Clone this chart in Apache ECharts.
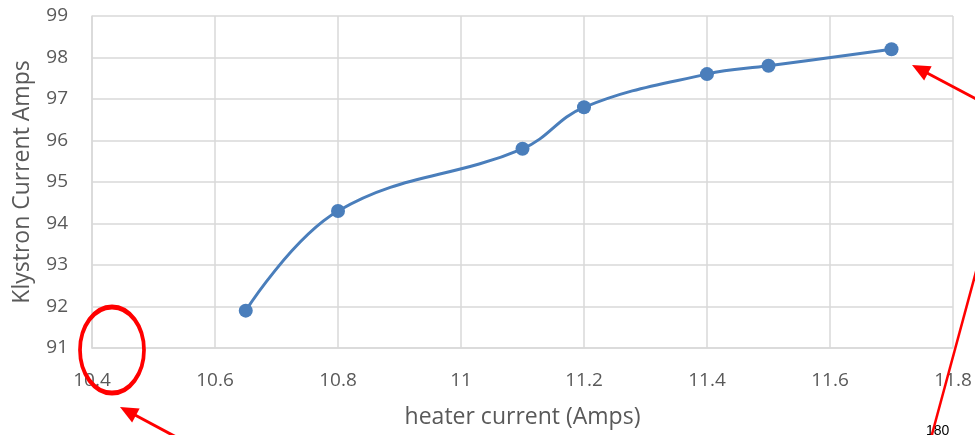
<!DOCTYPE html>
<html>
<head>
<meta charset="utf-8">
<script src="https://cdn.jsdelivr.net/npm/echarts@6/dist/echarts.min.js"></script>
<style>
	html, body { margin: 0; padding: 0; background: #fff; }
	#chart { width: 975px; height: 435px; }
</style>
</head>
<body>
<div id="chart"></div>
<script>
// heater current (Amps) vs klystron current
var heaterCurrent = [10.65, 10.8, 11.1, 11.2, 11.4, 11.5, 11.7];
var klystronCurrent = [91.9, 94.3, 95.8, 96.8, 97.6, 97.8, 98.2];

var myChart = echarts.init(document.getElementById('chart'));

var points = heaterCurrent.map(function(x, i) {
	return [x, klystronCurrent[i]];
});

// arrow head for the red annotations
function arrowHead(tip, from, len, half) {
	var dx = tip[0] - from[0],
		dy = tip[1] - from[1];
	var d = Math.sqrt(dx * dx + dy * dy);
	var ux = dx / d,
		uy = dy / d;
	var bx = tip[0] - ux * len,
		by = tip[1] - uy * len;
	return [tip, [bx - uy * half, by + ux * half], [bx + uy * half, by - ux * half]];
}

function arrowBase(tip, from, len) {
	var dx = tip[0] - from[0],
		dy = tip[1] - from[1];
	var d = Math.sqrt(dx * dx + dy * dy);
	return [tip[0] - dx / d * len * 0.8, tip[1] - dy / d * len * 0.8];
}

var red = '#ff0000';
var a1Tip = [120, 407], a1From = [178, 438];
var a2Tip = [912, 65], a2From = [978, 100];

var labelStyle = {
	color: '#595959',
	fontSize: 19,
	fontFamily: 'Open Sans'
};

var option = {
	animation: false,
	grid: {
		left: 92,
		right: 22,
		top: 16,
		bottom: 87,
		containLabel: false,
		outerBoundsMode: 'none'
	},
	xAxis: {
		type: 'value',
		min: 10.4,
		max: 11.8,
		interval: 0.2,
		name: 'heater current (Amps)',
		nameLocation: 'middle',
		nameGap: 58,
		nameTextStyle: {
			color: '#595959',
			fontSize: 23,
			fontFamily: 'Open Sans'
		},
		axisLine: { show: true, lineStyle: { color: '#d9d9d9', width: 1.5 } },
		axisTick: { show: false },
		axisLabel: Object.assign({
			margin: 23,
			showMinLabel: true,
			showMaxLabel: true,
			formatter: function(v) {
				return String(+v.toFixed(1));
			}
		}, labelStyle),
		splitLine: { show: true, lineStyle: { color: '#d9d9d9', width: 1.5 } }
	},
	yAxis: {
		type: 'value',
		min: 91,
		max: 99,
		interval: 1,
		name: 'Klystron Current Amps',
		nameLocation: 'middle',
		nameGap: 58,
		nameTextStyle: {
			color: '#595959',
			fontSize: 23,
			fontFamily: 'Open Sans'
		},
		axisLine: { show: true, lineStyle: { color: '#d9d9d9', width: 1.5 } },
		axisTick: { show: false },
		axisLabel: Object.assign({ margin: 24 }, labelStyle),
		splitLine: { show: true, lineStyle: { color: '#d9d9d9', width: 1.5 } }
	},
	series: [{
		type: 'line',
		data: points,
		smooth: 0.4,
		symbol: 'circle',
		symbolSize: 14,
		lineStyle: { color: '#4a7ebb', width: 3 },
		itemStyle: { color: '#4a7ebb' }
	}],
	graphic: [{
		type: 'circle',
		x: 112,
		y: 350,
		scaleX: 32 / 43,
		shape: { cx: 0, cy: 0, r: 43 },
		style: { fill: null, stroke: red, lineWidth: 5, strokeNoScale: true },
		z: 100
	}, {
		type: 'line',
		shape: { x1: a1From[0], y1: a1From[1], x2: arrowBase(a1Tip, a1From, 18)[0], y2: arrowBase(a1Tip, a1From, 18)[1] },
		style: { stroke: red, lineWidth: 3 },
		z: 100
	}, {
		type: 'polygon',
		shape: { points: arrowHead(a1Tip, a1From, 18, 8) },
		style: { fill: red },
		z: 100
	}, {
		type: 'line',
		shape: { x1: a2From[0], y1: a2From[1], x2: arrowBase(a2Tip, a2From, 18)[0], y2: arrowBase(a2Tip, a2From, 18)[1] },
		style: { stroke: red, lineWidth: 3 },
		z: 100
	}, {
		type: 'polygon',
		shape: { points: arrowHead(a2Tip, a2From, 18, 8) },
		style: { fill: red },
		z: 100
	}, {
		type: 'text',
		x: 926,
		y: 424,
		style: { text: '180', fill: '#000', fontSize: 14, fontFamily: 'Liberation Sans' },
		z: 99
	}, {
		type: 'line',
		shape: { x1: 931, y1: 438, x2: 977, y2: 268 },
		style: { stroke: red, lineWidth: 2.5 },
		z: 100
	}]
};

myChart.setOption(option);
</script>
</body>
</html>
